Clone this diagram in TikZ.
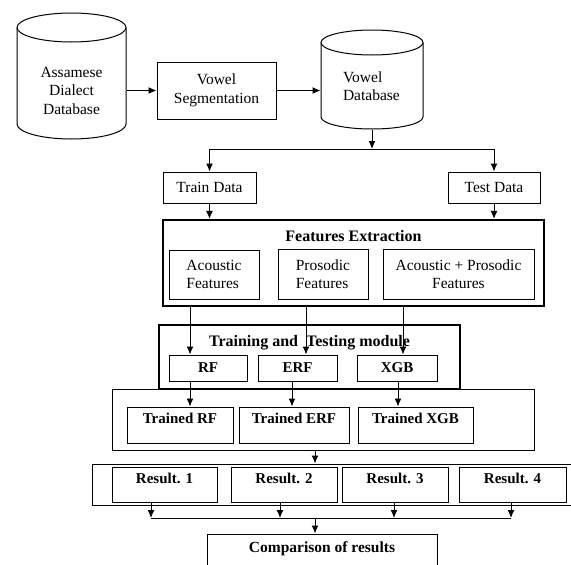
\documentclass[tikz,border=0pt]{standalone}
\usepackage{fontspec}
\setmainfont{Liberation Serif}
\usetikzlibrary{arrows.meta}

\tikzset{
  txt/.style={font=\fontsize{15.5}{18.5}\selectfont},
  box/.style={draw, txt, inner sep=0pt, align=center},
  bbox/.style={box, font=\fontsize{15}{18}\selectfont\bfseries},
  upbox/.style={bbox, inner ysep=3pt, text height=13pt, text depth=#1},
  thickbox/.style={draw, line width=2.4pt, inner xsep=0pt, inner ysep=6pt,
    font=\fontsize{16}{18}\selectfont\bfseries, text height=15pt, text depth=#1},
}

\begin{document}
\begin{tikzpicture}[x=1pt,y=1pt,line width=1pt,>={Latex[length=8pt,width=7pt]}]
  \useasboundingbox (0,0) rectangle (571,-565);
  \clip (0,0) rectangle (571,-565);

  % databases and segmentation
  \node[txt, align=center, minimum width=109, minimum height=97, inner sep=0pt] (adb) at (71.5,-90.5) {Assamese\\Dialect\\Database};
  \draw (71.5,-27.5) ellipse [x radius=54.5, y radius=14.5];
  \draw (17,-27.5) -- (17,-124) arc [start angle=180, end angle=360, x radius=54.5, y radius=15] -- (126,-27.5);

  \node[box, minimum width=119, minimum height=57] (seg) at (216.5,-90.5) {Vowel\\Segmentation};

  \node[txt, align=left, text width=58, inner xsep=22, inner ysep=0pt, minimum height=86] (vdb) at (372,-86) {Vowel\\Database};
  \draw (372,-42.5) ellipse [x radius=51, y radius=12.5];
  \draw (321,-42.5) -- (321,-117) arc [start angle=180, end angle=360, x radius=51, y radius=12] -- (423,-42.5);

  \draw[->] (adb.east) -- (seg.west |- adb.east);
  \draw[->] (seg.east) -- (vdb.west |- seg.east);

  % split into train and test
  \node[box, minimum width=93, minimum height=31] (train) at (209.5,-187.5) {Train Data};
  \node[box, minimum width=92, minimum height=31] (test) at (494,-187.5) {Test Data};
  \coordinate (split) at (372,-149);
  \draw[->] (vdb.south) -- (split);
  \draw[->] (split) -| (train.north);
  \draw[->] (split) -| (test.north);

  % features
  \node[thickbox=59pt, minimum width=381, minimum height=86] (fe) at (353.5,-263) {Features Extraction};
  \node[box, align=left, minimum width=90, minimum height=49] (ac) at (214,-274.5) {Acoustic\\Features};
  \node[box, align=left, minimum width=90, minimum height=50] (pr) at (323,-274) {Prosodic\\Features};
  \node[box, minimum width=151, minimum height=50] (ap) at (458.5,-274) {Acoustic + Prosodic\\Features};
  \draw[->] (train.south) -- (train.south |- fe.north);
  \draw[->] (test.south) -- (test.south |- fe.north);

  % models
  \node[thickbox=37pt, minimum width=301, minimum height=64] (tt) at (309.5,-357) {Training and\ \ Testing module};
  \node[bbox, minimum width=78, minimum height=26] (rf) at (208,-368) {RF};
  \node[bbox, minimum width=79, minimum height=26] (erf) at (297.5,-368) {ERF};
  \node[bbox, minimum width=80, minimum height=26] (xgb) at (397,-368) {XGB};
  \draw[->] ([xshift=-18]rf.north |- fe.south) -- ([xshift=-18]rf.north);
  \draw[->] ([xshift=8.5]erf.north |- fe.south) -- ([xshift=8.5]erf.north);
  \draw[->] ([xshift=6]xgb.north |- fe.south) -- ([xshift=6]xgb.north);

  % trained models
  \node[draw, minimum width=422, minimum height=61] (trbox) at (323,-419.5) {};
  \node[upbox=17pt, minimum width=106, minimum height=36] (trf) at (180,-425) {Trained RF};
  \node[upbox=17pt, minimum width=110, minimum height=36] (terf) at (294,-425) {Trained ERF};
  \node[upbox=17pt, minimum width=115, minimum height=36] (txgb) at (415.5,-425) {Trained XGB};
  \draw[->] ([xshift=-18]rf.south) -- ([xshift=-18]rf.south |- trf.north);
  \draw[->] ([xshift=-5.5]erf.south) -- ([xshift=-5.5]erf.south |- terf.north);
  \draw[->] ([xshift=1]xgb.south) -- ([xshift=1]xgb.south |- txgb.north);

  % results
  \coordinate (merge) at (315,-518);
  \node[draw, minimum width=483, minimum height=41] (resbox) at (333.5,-484.5) {};
  \node[upbox=16pt, minimum width=105, minimum height=35] (r1) at (164.5,-484.5) {Result. 1};
  \node[upbox=16pt, minimum width=106, minimum height=35] (r2) at (284,-484.5) {Result. 2};
  \node[upbox=16pt, minimum width=106, minimum height=35] (r3) at (395,-484.5) {Result. 3};
  \node[upbox=16pt, minimum width=107, minimum height=35] (r4) at (512.5,-484.5) {Result. 4};
  \draw[->] (trbox.south -| merge) -- (resbox.north -| merge);
  \draw[->] ([xshift=-13.5]r1.south) -- ([xshift=-13.5]r1.south |- merge);
  \draw[->] ([xshift=-4]r2.south) -- ([xshift=-4]r2.south |- merge);
  \draw[->] ([xshift=-1]r3.south) -- ([xshift=-1]r3.south |- merge);
  \draw[->] ([xshift=-1.5]r4.south) -- ([xshift=-1.5]r4.south |- merge);
  \draw ([xshift=-13.5]r1.south |- merge) -- ([xshift=-1.5]r4.south |- merge);

  \node[upbox=24pt, font=\fontsize{15.5}{18}\selectfont\bfseries, text height=15pt, minimum width=230, minimum height=45] (cmp) at (322,-556.5) {Comparison of results};
  \draw[->] (merge) -- (merge |- cmp.north);
\end{tikzpicture}
\end{document}
